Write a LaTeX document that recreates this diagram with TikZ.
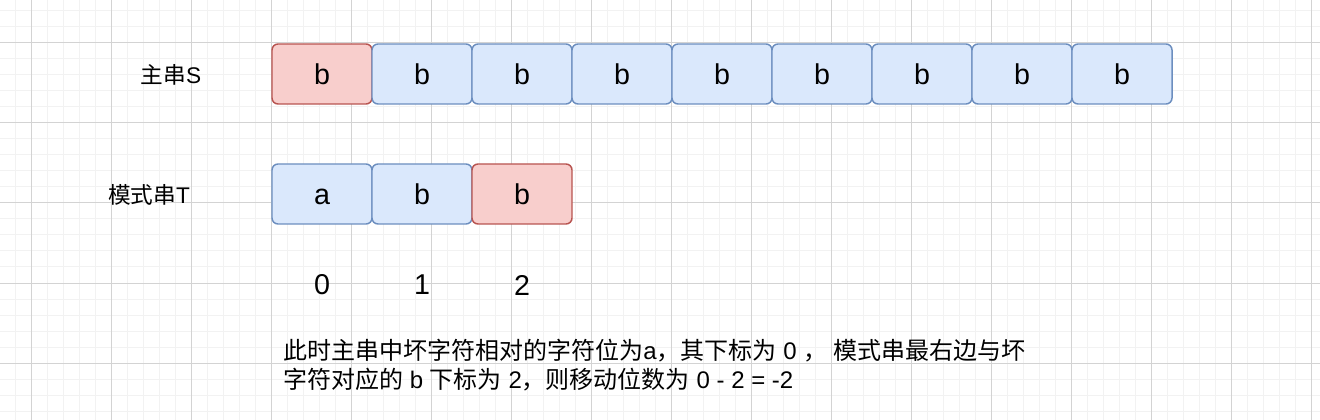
\documentclass[tikz,border=0pt]{standalone}
\usepackage{fontspec}
\setmainfont{Liberation Sans}
\newfontfamily\cjk{Noto Sans CJK SC}
\newcommand{\zh}[1]{{\cjk #1}}
\definecolor{bluefill}{HTML}{DAE8FC}
\definecolor{blueline}{HTML}{6C8EBF}
\definecolor{redfill}{HTML}{F8CECC}
\definecolor{redline}{HTML}{B85450}
\definecolor{minorgrid}{HTML}{F2F2F2}
\definecolor{majorgrid}{HTML}{D3D3D3}

\begin{document}
\begin{tikzpicture}[x=0.75pt,y=-0.75pt,
  cell/.style={draw=blueline,fill=bluefill,line width=1.1pt,rounded corners=4.5pt,
    minimum width=75pt,minimum height=45pt,inner sep=0pt,
    text height=15.5pt,text depth=0pt,font=\fontsize{21.5}{25}\selectfont},
  badcell/.style={cell,draw=redline,fill=redfill},
  idx/.style={inner sep=0pt,font=\fontsize{21.5}{25}\selectfont},
  strname/.style={inner sep=0pt,font=\fontsize{17}{21}\selectfont}]
\useasboundingbox (0,0) rectangle (1320,420);
\fill[white] (0,0) rectangle (1320,420);
% grid
\foreach \x in {15,31,...,1320} \draw[minorgrid,line width=0.75pt] (\x,0) -- (\x,420);
\foreach \y in {11,27,...,420} \draw[minorgrid,line width=0.75pt] (0,\y) -- (1320,\y);
\foreach \x in {31,111,...,1320} \draw[majorgrid,line width=0.75pt] (\x,0) -- (\x,420);
\foreach \y in {43,123,...,420} \draw[majorgrid,line width=0.75pt] (0,\y) -- (1320,\y);
% main string S
\node[strname] (nameS) at (171,75) {\zh{主串}S};
\node[badcell] (s0) at (322,74) {b};
\foreach \i in {1,...,8} \node[cell] (s\i) at ({322+100*\i},74) {b};
% pattern T
\node[strname] (nameT) at (149,195) {\zh{模式串}T};
\node[cell] (t0) at (322,194) {a};
\node[cell] (t1) at (422,194) {b};
\node[badcell] (t2) at (522,194) {b};
\foreach \i in {0,1,2} \node[idx] (i\i) at ({322+100*\i},285) {\i};
% note
\node[inner sep=0pt,anchor=north west,align=left,
  font=\fontsize{18}{21.75}\selectfont] (note) at (283,339)
  {\zh{此时主串中坏字符相对的字符位为}a\zh{，其下标为} 0 \zh{，} \zh{模式串最右边与坏}\\
   \zh{字符对应的} b \zh{下标为} 2\zh{，则移动位数为} 0 - 2 = -2};
\end{tikzpicture}
\end{document}
